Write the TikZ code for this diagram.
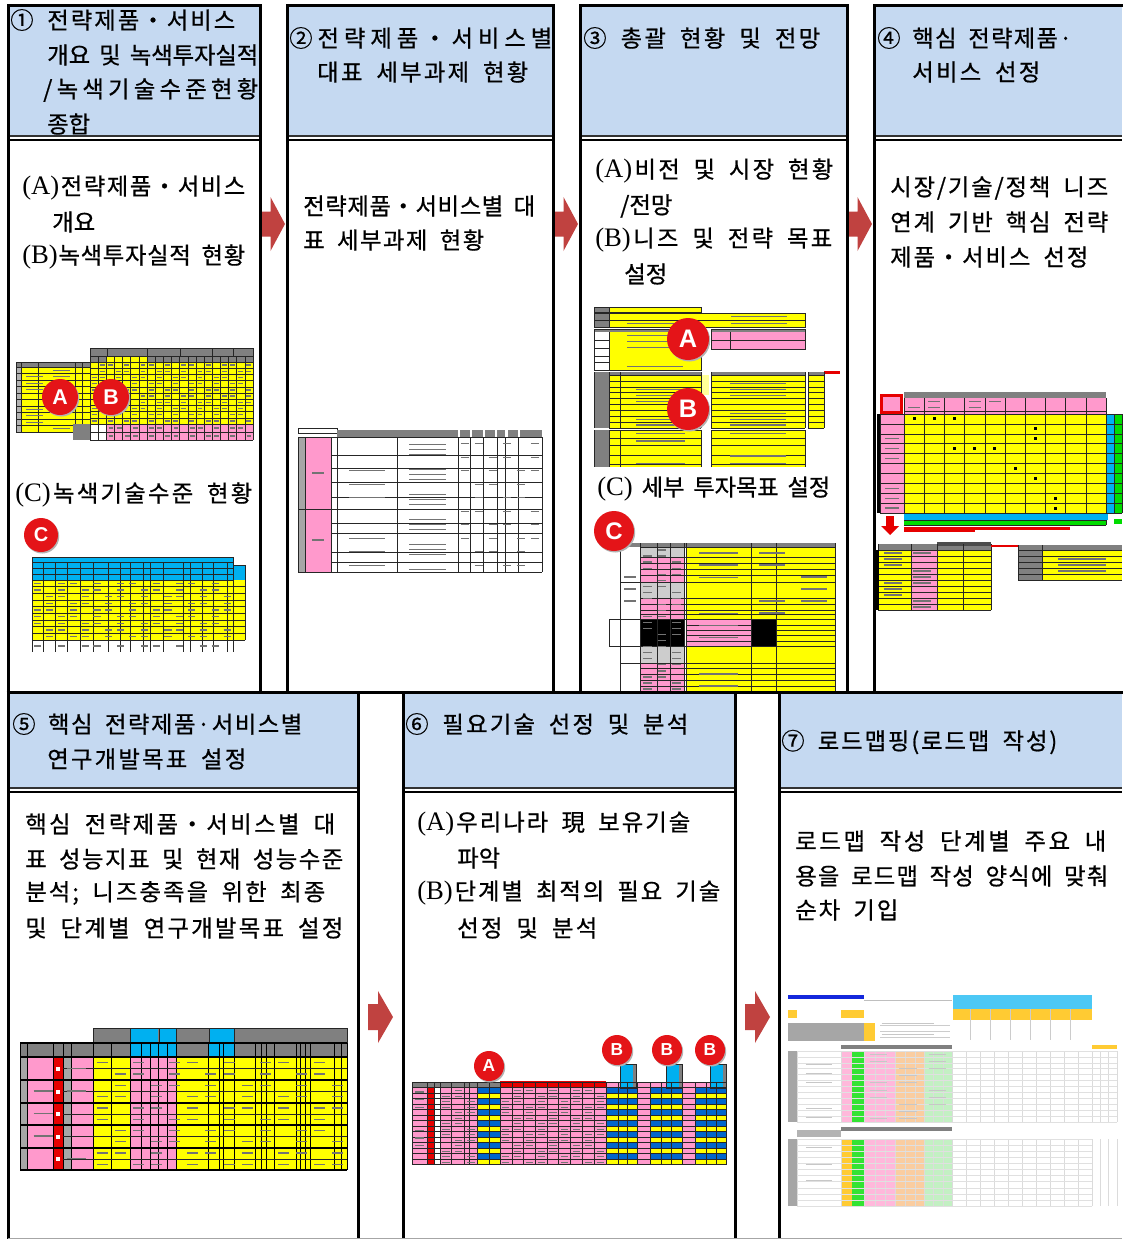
\documentclass[tikz,border=0pt]{standalone}
\usepackage{fontspec}
\setmainfont{Noto Sans CJK KR}[RawFeature={embolden=0.7}]
\newfontfamily\badgefont{Liberation Sans}
\newfontfamily\latf{Liberation Serif}
\definecolor{hdr}{RGB}{197,217,241}
\definecolor{arr}{RGB}{192,66,64}
\definecolor{xyel}{RGB}{255,255,0}
\definecolor{xpink}{RGB}{255,153,204}
\definecolor{xgrey}{RGB}{128,128,128}
\definecolor{xlgrey}{RGB}{205,205,205}
\definecolor{xcyan}{RGB}{0,176,240}
\definecolor{xblue}{RGB}{0,102,204}
\definecolor{xgreen}{RGB}{0,220,0}
\definecolor{xred}{RGB}{230,0,0}
\definecolor{bred}{RGB}{228,20,24}
\definecolor{xorange}{RGB}{255,190,0}
\definecolor{lorange}{RGB}{250,205,160}
\definecolor{lgreen}{RGB}{195,240,195}
\definecolor{xnavy}{RGB}{20,40,220}
\newdimen\px \px=0.75pt
\def~{\hskip0.4em\relax}
\def\LA{{\latf\fontsize{20}{21}\selectfont(A)}}
\def\LB{{\latf\fontsize{20}{21}\selectfont(B)}}
\def\LC{{\latf\fontsize{20}{21}\selectfont(C)}}
\def\spr#1#2{\makebox[#1\px][s]{\sprA#2\relax}}
\def\sprA#1{#1\sprB}
\def\sprB#1{\ifx#1\relax\else\hss#1\expandafter\sprB\fi}
\tikzset{
  txt/.style={anchor=west,inner sep=0pt,font=\fontsize{17.5}{21}\selectfont},
  border/.style={line width=3\px,black},
  gl/.style={line width=0.6\px,black!85},
  smud/.style={line width=1.3\px,black!55},
  badge/.style={circle,fill=bred,text=white,inner sep=0pt},
}
\newcommand\smudge[7]{%
  \pgfmathsetmacro\cw{(#2-#1)/#3}\pgfmathsetmacro\ch{(#5-#4)/#6}%
  \foreach \i in {1,...,#3}{\foreach \j in {1,...,#6}{%
    \pgfmathtruncatemacro\k{mod(\i*7+\j*11+#7,5)}%
    \ifnum\k<3\relax
      \draw[smud] ({#1+(\i-0.8)*\cw},{#4+(\j-0.5)*\ch}) -- ({#1+(\i-0.2)*\cw},{#4+(\j-0.5)*\ch});
    \fi}}}
\newcommand\barrow[6]{%
  \fill[arr] ({#1},{#2-#5}) -- ({#1+#3},{#2-#5}) -- ({#1+#3},{#2-#6}) -- ({#1+#4},{#2}) -- ({#1+#3},{#2+#6}) -- ({#1+#3},{#2+#5}) -- ({#1},{#2+#5}) -- cycle;}
\newcommand\badgeat[6]{%
  \fill[black!30] ({#2+1.2},{#3+1.5}) circle[radius=#4];
  \node[badge,minimum size=\dimexpr#4\px*2\relax,font=\badgefont\bfseries\fontsize{#5}{#5}\selectfont] (#1) at (#2,#3) {#6};}
\begin{document}
\begin{tikzpicture}[x=0.75pt,y=-0.75pt]
\useasboundingbox (0,0) rectangle (1122,1239);
\fill[white] (0,0) rectangle (1122,1239);
% ---------- header fills
\foreach \a/\b in {8/260,287/553,580/847,874/1122} \fill[hdr] (\a,5) rectangle (\b,136);
\foreach \a/\b in {8/358,403/735,779/1122} \fill[hdr] (\a,692) rectangle (\b,788);
% ---------- header texts
\node[txt] (t1a) at (10,20) {\makebox[37\px][l]{①}\spr{188}{전략제품・서비스}};
\node[txt] (t1b) at (47,55) {\spr{211}{개요~및~녹색투자실적}};
\node[txt] (t1c) at (43,90) {\spr{215}{/녹색기술수준현황}};
\node[txt] (t1d) at (47,124) {종합};
\node[txt] (t2a) at (289,38) {\spr{263}{②전략제품・서비스별}};
\node[txt] (t2b) at (317,72) {\spr{211}{대표~세부과제~현황}};
\node[txt] (t3a) at (583,38) {\spr{237}{③~총괄~현황~및~전망}};
\node[txt] (t4a) at (877,38) {\spr{195}{④~핵심~전략제품·}};
\node[txt] (t4b) at (912,72) {\spr{128}{서비스~선정}};
\node[txt] (t5a) at (12,724) {\spr{290}{⑤~핵심~전략제품·서비스별}};
\node[txt] (t5b) at (47,759) {\spr{199}{연구개발목표~설정}};
\node[txt] (t6a) at (405,724) {\spr{283}{⑥~필요기술~선정~및~분석}};
\node[txt] (t7a) at (781,742) {\spr{276}{⑦~로드맵핑(로드맵~작성)}};
% ---------- body texts
\node[txt] (b1a) at (22,188) {\spr{223}{\LA 전략제품・서비스}};
\node[txt] (b1b) at (52,222) {개요};
\node[txt] (b1c) at (22,257) {\spr{223}{\LB 녹색투자실적~현황}};
\node[txt] (b1d) at (15,495) {\spr{237}{\LC 녹색기술수준~현황}};
\node[txt] (b2a) at (303,206) {\spr{232}{전략제품・서비스별~대}};
\node[txt] (b2b) at (303,240) {\spr{181}{표~세부과제~현황}};
\node[txt] (b3a) at (595,171) {\spr{238}{\LA 비전~및~시장~현황}};
\node[txt] (b3b) at (620,206) {/전망};
\node[txt] (b3c) at (595,240) {\spr{237}{\LB 니즈~및~전략~목표}};
\node[txt] (b3d) at (624,274) {설정};
\node[txt] (b3e) at (597,489) {\spr{233}{\LC~세부~투자목표~설정}};
\node[txt] (b4a) at (890,188) {\spr{218}{시장/기술/정책~니즈}};
\node[txt] (b4b) at (890,222) {\spr{218}{연계~기반~핵심~전략}};
\node[txt] (b4c) at (890,257) {\spr{198}{제품・서비스~선정}};
\node[txt] (b5a) at (25,824) {\spr{310}{핵심~전략제품・서비스별~대}};
\node[txt] (b5b) at (25,859) {\spr{318}{표~성능지표~및~현재~성능수준}};
\node[txt] (b5c) at (25,893) {\spr{300}{분석;~니즈충족을~위한~최종}};
\node[txt] (b5d) at (25,928) {\spr{318}{및~단계별~연구개발목표~설정}};
\node[txt] (b6a) at (417,824) {\spr{273}{\LA 우리나라~現~보유기술}};
\node[txt] (b6b) at (457,858) {파악};
\node[txt] (b6c) at (417,893) {\spr{303}{\LB 단계별~최적의~필요~기술}};
\node[txt] (b6d) at (457,928) {\spr{140}{선정~및~분석}};
\node[txt] (b7a) at (795,841) {\spr{311}{로드맵~작성~단계별~주요~내}};
\node[txt] (b7b) at (795,876) {\spr{313}{용을~로드맵~작성~양식에~맞춰}};
\node[txt] (b7c) at (795,910) {\spr{103}{순차~기입}};
% ================= TABLE 1 A/B
\fill[xyel] (16,362) rectangle (90,432);
\fill[xgrey] (16,362) rectangle (90,367);
\fill[xgrey!60] (16,367) rectangle (21,432);
\foreach \x in {16,21,38,75,82,90} \draw[gl] (\x,362) -- (\x,432);
\foreach \i in {0,...,10} \draw[gl] (16,{367+6.5*\i}) -- (90,{367+6.5*\i});
\draw[gl] (16,362) -- (90,362);
\fill[xgrey] (90,348) rectangle (253,362);
\fill[xyel] (107,356) rectangle (147,362);
\fill[xyel] (90,362) rectangle (253,424);
\fill[xpink] (107,424) rectangle (253,440);
\fill[xgrey] (73,424) rectangle (90,440);
\foreach \x in {90,107,147,180,212,233,253} \draw[gl] (\x,348) -- (\x,356);
\foreach \i in {0,...,20} \draw[gl] ({90+8.15*\i},356) -- ({90+8.15*\i},440);
\foreach \y in {348,356,362,424,432,440} \draw[gl] (90,\y) -- (253,\y);
\foreach \i in {1,...,9} \draw[gl] (90,{362+6.2*\i}) -- (253,{362+6.2*\i});
\smudge{90}{253}{20}{362}{424}{10}{0}
\smudge{21}{75}{2}{367}{432}{10}{1}
\smudge{107}{253}{18}{424}{440}{2}{2}
\badgeat{bA1}{60}{397}{18}{16}{A}
\badgeat{bB1}{111}{397}{18}{16}{B}
% ================= TABLE 1 C
\fill[xcyan] (32,557) rectangle (233,580);
\fill[xcyan] (233,565) rectangle (245,580);
\fill[xyel] (32,580) rectangle (245,640);
\foreach \x in {32,43,55,67,80,93,108,120,130,143,150,163,183,190,202,213,227,233} \draw[gl] (\x,562) -- (\x,652);
\draw[gl] (245,565) -- (245,640);
\foreach \y in {557,562,568,574,580} \draw[gl] (32,\y) -- (233,\y);
\draw[gl] (233,565) -- (245,565);
\draw[gl] (32,557) -- (32,580); \draw[gl] (233,557) -- (233,580);
\foreach \i in {1,...,9} \draw[gl] (32,{580+6.67*\i}) -- (245,{580+6.67*\i});
\smudge{32}{233}{17}{580}{640}{9}{3}
\smudge{32}{233}{17}{640}{652}{1}{4}
\badgeat{bC1}{41}{535}{17}{15}{C}
% ================= TABLE 2
\draw[gl] (298,428) rectangle (337,433);
\fill[xgrey] (337,430) rectangle (458,437);
\foreach \a/\b in {460/470,472/483,485/495,497/505,508/518,520/542} \fill[xgrey] (\a,430) rectangle (\b,437);
\fill[xgrey!70] (298,437) rectangle (305,572);
\fill[xpink] (305,437) rectangle (331,572);
\foreach \x in {298,305,331,337,397,458,470,483,497,505,518,542} \draw[gl] (\x,437) -- (\x,572);
\foreach \y in {437,455,468,482,497,509,523,533,552,562,572} \draw[gl] (331,\y) -- (542,\y);
\foreach \y in {437,509,572} \draw[gl] (298,\y) -- (331,\y);
\smudge{337}{397}{1}{437}{572}{10}{0}
\smudge{397}{458}{1}{437}{572}{27}{1}
\smudge{458}{542}{6}{437}{572}{10}{2}
\draw[smud] (312,473) -- (324,473); \draw[smud] (312,540) -- (324,540);
% ================= TABLE 3 A/B
\fill[xgrey] (594,307) rectangle (609,312); \fill[xyel] (609,307) rectangle (701,312);
\fill[xgrey] (594,313) rectangle (609,327); \fill[xyel] (609,313) rectangle (805,327);
\draw[gl] (594,307) rectangle (701,312);
\draw[gl] (594,313) rectangle (805,327); \draw[gl] (594,320) -- (805,320); \draw[gl] (609,307) -- (609,327);
\fill[xgrey] (594,329) rectangle (701,332);
\fill[xyel] (609,332) rectangle (701,370);
\draw[gl] (594,329) rectangle (701,370); \draw[gl] (609,332) -- (609,370);
\foreach \y in {340,348,356,362} \draw[gl] (594,\y) -- (609,\y);
\fill[xgrey] (711,329) rectangle (805,332);
\fill[xpink] (711,332) rectangle (805,349);
\draw[gl] (711,329) rectangle (805,349); \draw[gl] (711,340.5) -- (805,340.5); \draw[gl] (730,332) -- (730,349);
\fill[xgrey] (594,372) rectangle (609,428);
\fill[xgrey] (609,372) rectangle (701,375);
\fill[xyel] (609,375) rectangle (701,428);
\fill[xyel!40] (701,375) rectangle (709,395);
\fill[xgrey] (711,372) rectangle (805,375);
\fill[xyel] (711,375) rectangle (805,428);
\fill[xgrey] (808,372) rectangle (824,375);
\fill[xyel] (808,375) rectangle (824,428);
\fill[xred] (824,371) rectangle (840,374);
\foreach \i in {0,...,9} {\draw[gl] (609,{375+5.9*\i}) -- (701,{375+5.9*\i}); \draw[gl] (711,{375+5.9*\i}) -- (805,{375+5.9*\i}); \draw[gl] (808,{375+5.9*\i}) -- (824,{375+5.9*\i});}
\foreach \x in {594,609,620,701,711,805,808,824} \draw[gl] (\x,372) -- (\x,428);
\fill[xgrey] (594,430) rectangle (609,467);
\fill[xyel] (609,430) rectangle (701,467);
\fill[xyel] (711,430) rectangle (805,467);
\foreach \y in {430,438,445,455,464} {\draw[gl] (609,\y) -- (701,\y); \draw[gl] (711,\y) -- (805,\y);}
\foreach \x in {594,609,620,701,711,805} \draw[gl] (\x,430) -- (\x,467);
\smudge{609}{701}{1}{307}{327}{3}{0}
\smudge{620}{805}{2}{313}{327}{2}{1}
\smudge{609}{701}{1}{332}{370}{6}{2}
\smudge{730}{805}{1}{332}{349}{2}{0}
\smudge{620}{701}{1}{375}{428}{9}{0}
\smudge{711}{805}{1}{375}{428}{9}{1}
\smudge{620}{701}{1}{430}{467}{5}{3}
\smudge{711}{805}{1}{430}{467}{5}{4}
\badgeat{bA3}{688}{339}{21}{19}{A}
\badgeat{bB3}{688}{409}{21}{19}{B}
% ================= TABLE 3 C
\fill[xgrey] (620,543) rectangle (835,547);
\fill[xlgrey] (640,547) rectangle (684,557);
\fill[xpink] (640,557) rectangle (684,582);
\fill[xlgrey] (640,582) rectangle (684,598);
\fill[xpink] (640,598) rectangle (684,619);
\fill[xlgrey] (640,646) rectangle (684,663);
\fill[xpink] (640,663) rectangle (684,692);
\fill[xyel] (686,547) rectangle (835,692);
\fill[xpink] (686,619) rectangle (751,646);
\fill[black] (640,619) rectangle (684,646);
\fill[black] (751,619) rectangle (776,646);
\foreach \x in {620,640,657,670,684,686,751,776,835} \draw[gl] (\x,543) -- (\x,692);
\foreach \y in {547,557,563,569,575,582,598,604,610,614,619,646,663,668,674,680,686} \draw[gl] (640,\y) -- (835,\y);
\foreach \y in {625,630,635,641} \draw[gl] (686,\y) -- (751,\y);
\foreach \y in {625,630,635,641} \draw[gl] (776,\y) -- (835,\y);
\draw[gl] (609,619) rectangle (640,646);
\foreach \y in {582,619,646,663} \draw[gl] (620,\y) -- (640,\y);
\smudge{640}{684}{3}{547}{692}{24}{1}
\smudge{686}{751}{1}{547}{692}{12}{2}
\smudge{751}{835}{2}{547}{619}{6}{3}
\smudge{620}{640}{1}{547}{619}{6}{0}
\badgeat{bC3}{614}{531}{20}{18}{C}
% ================= TABLE 4
\fill[xgrey] (904,392) rectangle (1106,398);
\fill[xpink] (904,398) rectangle (1106,414);
\fill[xred] (880,394) rectangle (903,414); \fill[xpink] (883,397) rectangle (900,411);
\fill[black] (877,414) rectangle (880,513);
\fill[xpink] (880,414) rectangle (904,513);
\fill[xyel] (904,414) rectangle (1106,513);
\fill[xcyan] (1106,414) rectangle (1114,513);
\fill[xgreen] (1114,414) rectangle (1122,513);
\foreach \i in {0,...,10} \draw[gl] ({904+20.2*\i},398) -- ({904+20.2*\i},525);
\foreach \x in {880,1114,1122} \draw[gl] (\x,414) -- (\x,513);
\foreach \i in {0,...,10} \draw[gl] (880,{414+9.9*\i}) -- (1122,{414+9.9*\i});
\draw[gl] (904,411) -- (1106,411);
\foreach \c/\r in {1/1,2/1,3/1,7/2,7/3,3/4,4/4,5/4,6/6,7/7,8/9,8/10}
  \fill[black] ({904+20.2*(\c-0.5)-1.5},{414+9.9*(\r-0.5)-1.5}) rectangle ++(3,3);
\smudge{880}{904}{1}{414}{513}{10}{0}
\smudge{904}{1005}{5}{398}{411}{2}{1}
\fill[xcyan] (904,514) rectangle (1108,520);
\fill[xgreen] (904,520) rectangle (1106,525);
\fill[xgreen] (1114,519) rectangle (1122,524);
\draw[gl] (904,520) -- (1106,520); \draw[gl] (904,525) -- (1106,525);
\fill[xred] (904,527) rectangle (1070,530); \fill[xred] (904,529) rectangle (975,532);
\fill[xred] (886,516) rectangle (894,526);
\fill[xred] (881,526) -- (899,526) -- (890,535) -- cycle;
\fill[xgrey] (878,544) rectangle (991,550);
\fill[black!70] (937,542) rectangle (991,546);
\fill[xyel] (878,550) rectangle (911,610); \fill[xpink] (911,550) rectangle (937,610); \fill[xyel] (937,550) rectangle (991,610);
\foreach \x in {878,911,937,963,991} \draw[gl] (\x,544) -- (\x,610);
\foreach \i in {0,...,10} \draw[gl] (878,{550+6*\i}) -- (991,{550+6*\i});
\fill[black] (876,550) rectangle (879,610);
\smudge{878}{937}{2}{550}{610}{10}{2}
\fill[xred] (991,545) rectangle (1042,547);
\fill[xgrey] (1018,545) rectangle (1122,550);
\fill[xgrey] (1018,550) rectangle (1042,580);
\fill[xyel] (1042,550) rectangle (1122,580);
\foreach \y in {550,556,562,568,574,580} \draw[gl] (1018,\y) -- (1122,\y);
\foreach \x in {1018,1042} \draw[gl] (\x,545) -- (\x,580);
\smudge{1042}{1122}{1}{550}{580}{5}{1}
% ================= TABLE 5
\fill[xgrey] (93,1028) rectangle (347,1043);
\foreach \a/\b in {130/158,159/176,209/234} \fill[xcyan] (\a,1028) rectangle (\b,1043);
\fill[xgrey] (20,1043) rectangle (347,1057);
\fill[xcyan] (130,1043) rectangle (176,1057); \fill[xcyan] (209,1043) rectangle (234,1057);
\fill[xgrey!70] (20,1057) rectangle (27,1170);
\fill[xpink] (27,1057) rectangle (53,1170);
\fill[xred] (53,1057) rectangle (63,1170);
\fill[xgrey!70] (63,1057) rectangle (71,1170);
\fill[xpink] (71,1057) rectangle (93,1170);
\fill[xyel] (93,1057) rectangle (347,1170);
\fill[xpink] (130,1057) rectangle (176,1170);
\foreach \x in {20,27,53,63,71,93,111,130,141,150,158,167,176,208,219,223,234,255,261,266,274,296,300,305,310,334,341,347} \draw[line width=1\px] (\x,1043) -- (\x,1170);
\foreach \x in {93,130,159,176,209,234,347} \draw[gl] (\x,1028) -- (\x,1043);
\draw[gl] (93,1028) -- (347,1028);
\foreach \y in {1043,1057,1080,1103,1125,1148,1170} \draw[line width=1.3\px] (20,\y) -- (347,\y);
\foreach \y in {1068.5,1091.5,1114,1136.5,1159} \draw[gl] (63,\y) -- (347,\y);
\foreach \y in {1068.5,1091.5,1114,1136.5,1159} \fill[white] (56,{\y-2}) rectangle (60,{\y+2});
\smudge{93}{347}{14}{1057}{1170}{10}{4}
\smudge{27}{93}{2}{1057}{1170}{5}{1}
% ================= TABLE 6
\fill[xpink] (412,1082) rectangle (726,1165);
\fill[xgrey] (412,1082) rectangle (500,1088);
\fill[xred] (500,1081) rectangle (606,1088);
\fill[xred] (427,1088) rectangle (434,1165);
\fill[white] (434,1088) rectangle (440,1165);
\foreach \a/\b in {477/500,606/637,650/682,695/726}{
  \fill[xyel] (\a,1088) rectangle (\b,1165);
  \foreach \k in {0,2,...,12} \fill[xblue] (\a,{1088+5.5*\k}) rectangle (\b,{1088+5.5*(\k+1)});
}
\foreach \a in {620,666,710} {\fill[xcyan] (\a,1064) rectangle ({\a+13},1088); \fill[xgrey] ({\a+13},1064) rectangle ({\a+16},1088); \draw[gl] (\a,1064) rectangle ({\a+16},1088);}
\foreach \x in {412,427,434,440,451,464,469,477,489,500,512,523,535,547,558,570,582,594,606,618,627,637,650,661,671,682,695,706,716,726} \draw[gl] (\x,1082) -- (\x,1165);
\foreach \i in {0,...,15} \draw[gl] (412,{1082+5.5*\i}) -- (726,{1082+5.5*\i});
\smudge{440}{477}{3}{1088}{1165}{14}{1}
\smudge{500}{606}{9}{1088}{1165}{14}{5}
\smudge{412}{427}{1}{1088}{1165}{10}{2}
\badgeat{bA6}{489}{1066}{15}{13}{A}
\badgeat{bB6a}{617}{1050}{15}{13}{B}
\badgeat{bB6b}{667}{1050}{15}{13}{B}
\badgeat{bB6c}{710}{1050}{15}{13}{B}
% ================= TABLE 7
\fill[xnavy] (788,995) rectangle (864,999);
\fill[xcyan!70] (953,995) rectangle (1092,1009);
\fill[xorange!80] (953,1009) rectangle (1092,1020);
\fill[xorange!80] (788,1010) rectangle (797,1018); \fill[xorange!80] (841,1010) rectangle (864,1018);
\fill[xgrey!70] (788,1023) rectangle (864,1041); \fill[xorange!80] (864,1023) rectangle (875,1041);
\draw[black!25] (864,1000) -- (952,1000);
\foreach \y in {1025,1031,1037} \draw[black!20] (880,\y) -- (950,\y);
\foreach \x in {970,990,1010,1030,1050,1070} \draw[black!20] (\x,1009) -- (\x,1040);
\fill[xgrey] (841,1045) rectangle (952,1049);
\fill[xorange!80] (1092,1045) rectangle (1117,1049);
\fill[xgrey!70] (788,1051) rectangle (797,1122);
\fill[xpink!70] (841,1051) rectangle (852,1122);
\fill[xgreen!80] (852,1051) rectangle (864,1122);
\fill[xpink!70] (864,1051) rectangle (895,1122);
\fill[lorange] (895,1051) rectangle (924,1122);
\fill[lgreen] (924,1051) rectangle (952,1122);
\fill[xgrey] (841,1127) rectangle (952,1131);
\fill[xgrey!60] (797,1130) rectangle (841,1137);
\fill[xgrey!70] (788,1139) rectangle (797,1206);
\fill[xorange!80] (841,1139) rectangle (852,1206);
\fill[xgreen!80] (852,1139) rectangle (864,1206);
\fill[xpink!70] (864,1139) rectangle (895,1206);
\fill[lorange] (895,1139) rectangle (924,1206);
\fill[lgreen] (924,1139) rectangle (952,1206);
\foreach \x in {797,841,864,875,885,895,905,915,924,933,943,952,966,980,994,1008,1022,1036,1050,1064,1078,1092,1100,1108,1117} {\draw[black!14] (\x,1051) -- (\x,1122); \draw[black!14] (\x,1139) -- (\x,1206);}
\foreach \i in {0,...,12} {\draw[black!12] (797,{1051+5.9*\i}) -- (1117,{1051+5.9*\i});}
\foreach \i in {0,...,11} {\draw[black!12] (797,{1139+6.1*\i}) -- (1092,{1139+6.1*\i});}
\begin{scope}[smud/.style={line width=1\px,black!22}]
\smudge{797}{841}{1}{1051}{1122}{8}{1}
\smudge{797}{841}{1}{1139}{1206}{4}{2}
\smudge{864}{952}{3}{1051}{1122}{10}{3}
\smudge{864}{952}{1}{996}{1040}{4}{0}
\end{scope}
% ---------- arrows
\barrow{262}{224}{8.5}{23}{12.5}{27}
\barrow{555}{224}{8.5}{23}{12.5}{27}
\barrow{849}{224}{8.5}{23}{12.5}{27}
\barrow{368}{1017}{10}{25}{13}{26}
\barrow{745}{1017}{10}{25}{13}{26}
% ---------- borders
\foreach \a/\b in {8/260,287/553,580/847,874/1122} {\draw[line width=1.2\px,black!80] (\a,136) -- (\b,136); \draw[line width=2.5\px] (\a,140) -- (\b,140);}
\foreach \a/\b in {8/358,403/735,779/1122} {\draw[line width=1.2\px,black!80] (\a,788) -- (\b,788); \draw[line width=2.5\px] (\a,792) -- (\b,792);}
\foreach \a/\b in {8/260,287/553,580/847} \draw[border] (\a,5) rectangle (\b,692);
\draw[border] (1126,5) -- (874,5) -- (874,692);
\draw[border] (6.5,692) -- (1126,692);
\foreach \x in {8,358,403,735,779} \draw[border] (\x,692) -- (\x,1240);
\draw[black!35,line width=1\px] (8,1238) -- (1122,1238);
\end{tikzpicture}
\end{document}
